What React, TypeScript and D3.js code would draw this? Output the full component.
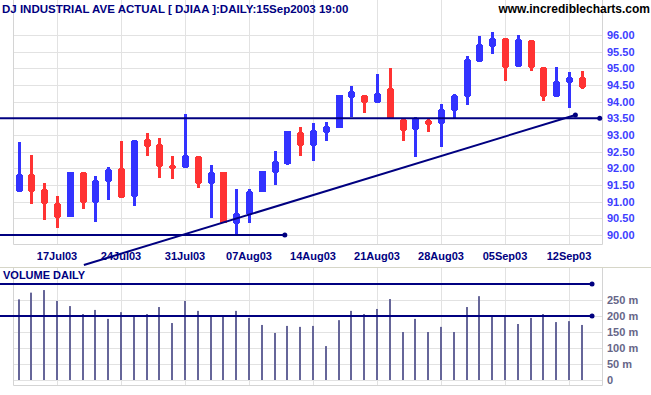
import React from 'react';
import * as d3 from 'd3';

// trading days shown on the chart
const days = [
  '14Jul03', '15Jul03', '16Jul03', '17Jul03', '18Jul03',
  '21Jul03', '22Jul03', '23Jul03', '24Jul03', '25Jul03',
  '28Jul03', '29Jul03', '30Jul03', '31Jul03', '01Aug03',
  '04Aug03', '05Aug03', '06Aug03', '07Aug03', '08Aug03',
  '11Aug03', '12Aug03', '13Aug03', '14Aug03', '15Aug03',
  '18Aug03', '19Aug03', '20Aug03', '21Aug03', '22Aug03',
  '25Aug03', '26Aug03', '27Aug03', '28Aug03', '29Aug03',
  '02Sep03', '03Sep03', '04Sep03', '05Sep03',
  '08Sep03', '09Sep03', '10Sep03', '11Sep03', '12Sep03',
  '15Sep03',
];
const tickLabels = ['17Jul03', '24Jul03', '31Jul03', '07Aug03', '14Aug03', '21Aug03', '28Aug03', '05Sep03', '12Sep03'];

const open = [
  91.30, 91.83, 91.37, 90.96, 90.55, 91.89, 90.97, 91.58, 92.00, 91.15,
  92.87, 92.73, 92.11, 92.02, 92.37, 91.52, 91.88, 90.33, 90.60, 91.30,
  91.87, 92.13, 93.08, 92.68, 93.05, 93.22, 94.10, 94.21, 93.95, 94.40,
  93.48, 93.15, 93.45, 93.32, 93.73, 94.15, 95.18, 95.65, 95.90, 95.05,
  95.85, 95.03, 94.13, 94.57, 94.73,
];
const high = [
  92.79, 92.40, 91.56, 91.17, 91.89, 91.89, 91.78, 92.05, 92.82, 92.85,
  93.06, 92.91, 92.37, 93.63, 92.37, 92.10, 91.88, 91.38, 91.38, 91.92,
  92.52, 93.12, 93.25, 93.36, 93.39, 94.19, 94.47, 94.21, 94.83, 95.01,
  93.48, 93.54, 93.48, 93.93, 94.23, 95.37, 95.97, 96.08, 95.90, 96.00,
  95.85, 95.03, 95.03, 94.89, 94.92,
];
const low = [
  91.30, 90.94, 90.45, 90.22, 90.55, 90.79, 90.40, 91.05, 91.10, 90.88,
  92.38, 91.72, 91.69, 92.02, 91.42, 90.52, 90.35, 90.02, 90.35, 91.30,
  91.51, 92.10, 92.38, 92.23, 92.83, 93.22, 93.55, 93.67, 93.95, 93.48,
  92.83, 92.35, 93.10, 92.65, 93.49, 93.90, 95.18, 95.43, 94.62, 95.05,
  94.92, 94.02, 94.13, 93.82, 94.38,
];
const close = [
  91.83, 91.28, 90.93, 90.50, 91.89, 90.95, 91.65, 91.97, 91.10, 92.85,
  92.65, 92.05, 91.98, 92.39, 91.52, 91.90, 90.35, 90.67, 91.33, 91.92,
  92.22, 93.12, 92.68, 93.15, 93.26, 94.19, 94.33, 93.95, 94.27, 93.48,
  93.13, 93.51, 93.30, 93.78, 94.19, 95.27, 95.72, 95.90, 95.00, 95.87,
  95.02, 94.15, 94.62, 94.73, 94.42,
];
// volume in millions
const volume = [
  252, 273, 281, 247, 231, 206, 219, 191, 212, 203,
  206, 228, 178, 247, 216, 199, 199, 216, 194, 172,
  147, 169, 166, 169, 106, 187, 216, 206, 222, 253,
  150, 191, 150, 166, 150, 228, 262, 203, 203, 175,
  194, 206, 181, 184, 172,
];

const priceTicks = [90, 90.5, 91, 91.5, 92, 92.5, 93, 93.5, 94, 94.5, 95, 95.5, 96];
const volumeTicks = [0, 50, 100, 150, 200, 250];

// drawn support / trend lines (day index, value)
const priceLevels = [93.5, 90.0];
const priceLevelEnds = [45.4, 20.8];
const trendStart = [5.1, 89.1];
const trendEnd = [43.5, 93.6];
const volumeLevels = [300, 200];
const volumeLevelEnd = 44.8;

const W = 651, H = 395;
const left = 13, right = 602;
const UP = '#3333ff', DOWN = '#ff3333', NAVY = '#000080', GRID = '#e2e2e2';
const FONT = 'Liberation Sans, Arial, sans-serif';

export default function App() {
  const x = d3.scaleLinear().domain([0, 44]).range([18.6, 581.8]);
  const y = d3.scaleLinear().domain([90, 96]).range([235, 35]);
  const yv = d3.scaleLinear().domain([0, 250]).range([380, 300]);
  const px = (i: number) => Math.round(x(i));
  const tickIdx = tickLabels.map(t => days.indexOf(t));

  const trendLine = d3.line<number[]>().x(d => x(d[0])).y(d => y(d[1]));

  return (
    <svg width={W} height={H} style={{ position: 'absolute', left: 0, top: 0, background: '#fff' }}
      fontFamily={FONT}>
      {/* price panel grid */}
      {tickIdx.map((i, k) => (
        <line key={'vg' + k} x1={px(i) + 0.5} x2={px(i) + 0.5} y1={0} y2={244} stroke={GRID} />
      ))}
      {priceTicks.map((p, k) => (
        <line key={'hg' + k} x1={left} x2={right} y1={Math.round(y(p)) + 0.5} y2={Math.round(y(p)) + 0.5} stroke={GRID} />
      ))}
      <path d={`M${left + 0.5},0V244.5H${right + 0.5}V0`} fill="none" stroke="#d4d4d4" />

      {/* candles */}
      {days.map((d, i) => {
        const cx = px(i);
        const up = close[i] >= open[i];
        const col = up ? UP : DOWN;
        const bt = Math.round(y(Math.max(open[i], close[i])));
        const bb = Math.round(y(Math.min(open[i], close[i])));
        const hy = Math.round(y(high[i]));
        const ly = Math.round(y(low[i]));
        const notch = hy < bt - 1 || ly > bb + 1;
        return (
          <g key={d} fill={col}>
            <rect x={cx - 1} y={hy} width={3} height={Math.max(1, ly - hy)} />
            {notch ? (
              <>
                <rect x={cx - 3} y={bt + 1} width={7} height={Math.max(1, bb - bt - 2)} />
                <rect x={cx - 2} y={bt} width={5} height={Math.max(1, bb - bt)} />
              </>
            ) : (
              <rect x={cx - 3} y={bt} width={7} height={Math.max(1, bb - bt)} />
            )}
          </g>
        );
      })}

      {/* support lines */}
      {priceLevels.map((p, k) => (
        <g key={'pl' + k}>
          <line x1={0} x2={x(priceLevelEnds[k])} y1={y(p)} y2={y(p)} stroke={NAVY} strokeWidth={2} />
          <circle cx={x(priceLevelEnds[k])} cy={y(p)} r={2.5} fill={NAVY} />
        </g>
      ))}
      <path d={trendLine([trendStart, trendEnd]) || ''} stroke={NAVY} strokeWidth={2} fill="none" />
      <circle cx={x(trendEnd[0])} cy={y(trendEnd[1])} r={2.5} fill={NAVY} />

      {/* price axis labels */}
      {priceTicks.map((p, k) => (
        <text key={'pt' + k} x={607} y={y(p) + 4} fontSize={11} fontWeight="bold" fill="#3d3dff">
          {p.toFixed(2)}
        </text>
      ))}

      {/* date labels */}
      {tickIdx.map((i, k) => (
        <text key={'dl' + k} x={x(i)} y={260} textAnchor="middle" fontSize={11} fontWeight="bold" fill={NAVY}>
          {tickLabels[k]}
        </text>
      ))}

      {/* titles */}
      <text x={2} y={13} fontSize={11.5} fontWeight="bold" fill={NAVY}>
        DJ INDUSTRIAL AVE ACTUAL [ DJIAA ]:DAILY:15Sep2003 19:00
      </text>
      <text x={650} y={13} textAnchor="end" fontSize={12} fontWeight="bold" fill="#000">
        www.incrediblecharts.com
      </text>

      {/* volume panel */}
      <line x1={0} x2={W} y1={267.5} y2={267.5} stroke="#d6d6c8" />
      {tickIdx.map((i, k) => (
        <line key={'vvg' + k} x1={px(i) + 0.5} x2={px(i) + 0.5} y1={268} y2={386} stroke={GRID} />
      ))}
      {volumeTicks.map((v, k) => (
        <line key={'vhg' + k} x1={left} x2={right} y1={yv(v) + 0.5} y2={yv(v) + 0.5} stroke={GRID} />
      ))}
      <path d={`M${left + 0.5},268V385.5H${right + 0.5}V268`} fill="none" stroke="#d4d4d4" />
      <text x={3} y={279} fontSize={11} fontWeight="bold" fill={NAVY}>VOLUME DAILY</text>

      {volume.map((v, i) => (
        <rect key={'vb' + i} x={px(i) - 1} y={yv(v)} width={2} height={yv(0) - yv(v)} fill="#666699" />
      ))}

      {volumeLevels.map((v, k) => (
        <g key={'vl' + k}>
          <line x1={0} x2={x(volumeLevelEnd)} y1={yv(v)} y2={yv(v)} stroke={NAVY} strokeWidth={2} />
          <circle cx={x(volumeLevelEnd)} cy={yv(v)} r={2.5} fill={NAVY} />
        </g>
      ))}

      {volumeTicks.map((v, k) => (
        <text key={'vt' + k} x={607} y={yv(v) + 4} fontSize={11} fontWeight="bold" fill="#666688">
          {v === 0 ? '0' : `${v} m`}
        </text>
      ))}
    </svg>
  );
}
